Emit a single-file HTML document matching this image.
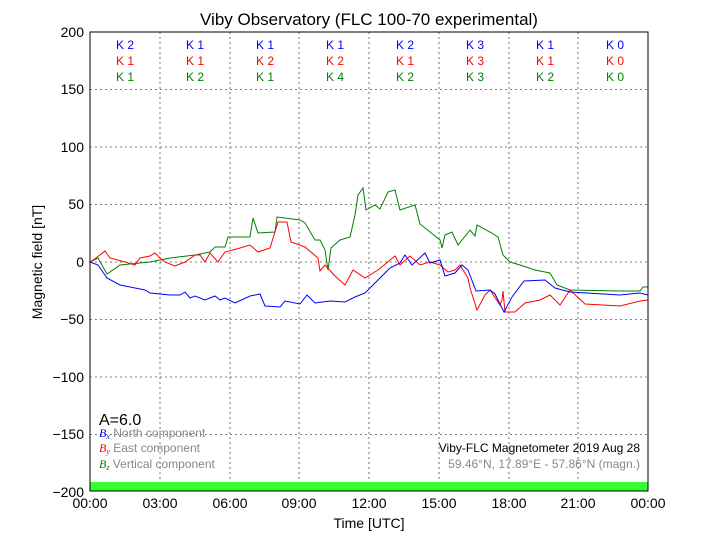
<!DOCTYPE html>
<html><head><meta charset="utf-8"><style>body{margin:0;background:#fff}svg{display:block}text{font-family:"Liberation Sans",sans-serif}</style></head><body>
<svg width="720" height="540" viewBox="0 0 720 540" xmlns="http://www.w3.org/2000/svg">
<rect width="720" height="540" fill="#fff"/>
<text x="369" y="25" font-size="17" text-anchor="middle">Viby Observatory (FLC 100-70 experimental)</text>
<g stroke="#555" stroke-dasharray="2,3" stroke-width="0.8">
<line x1="160" y1="32" x2="160" y2="491"/><line x1="230" y1="32" x2="230" y2="491"/><line x1="299" y1="32" x2="299" y2="491"/><line x1="369" y1="32" x2="369" y2="491"/><line x1="439" y1="32" x2="439" y2="491"/><line x1="509" y1="32" x2="509" y2="491"/><line x1="578" y1="32" x2="578" y2="491"/>
<line x1="90" y1="89.5" x2="648" y2="89.5"/><line x1="90" y1="147" x2="648" y2="147"/><line x1="90" y1="204.5" x2="648" y2="204.5"/><line x1="90" y1="262" x2="648" y2="262"/><line x1="90" y1="319.5" x2="648" y2="319.5"/><line x1="90" y1="377" x2="648" y2="377"/><line x1="90" y1="434.5" x2="648" y2="434.5"/>
</g>
<rect x="90" y="482" width="558" height="9" fill="#33ff33"/>
<polyline fill="none" stroke="#008000" stroke-width="1" points="90,262 98,258 107,274 120,265 150,262 170,258 195,255 210,252 215,247 225,247 228,237 250,237 253,218 258,233 275,232 277,217 300,220 305,223 315,240 320,240 325,250 328,270 331,248 340,240 350,237 355,215 358,195 363,188 366,210 375,205 380,209 388,192 395,190 400,210 415,205 420,224 440,240 442,248 445,235 452,232 458,245 470,230 475,236 477,225 490,232 498,237 503,255 510,262 520,265 535,270 550,273 557,285 570,290 620,291 640,291 643,287 648,287"/>
<polyline fill="none" stroke="#ff0000" stroke-width="1" points="90,262 96,258 105,251 110,258 125,262 135,265 140,258 150,256 155,253 160,258 165,262 175,266 185,262 195,255 200,255 205,262 210,253 218,262 225,252 240,248 250,245 258,252 270,248 278,222 287,222 291,242 305,247 318,258 320,271 325,265 335,276 345,285 353,270 365,278 378,270 395,256 400,265 410,256 420,265 430,262 440,265 448,272 455,270 460,265 468,278 470,288 477,310 485,295 490,290 500,305 502,300 503,291 505,312 515,312 525,303 540,300 550,295 560,305 570,290 585,304 620,306 640,301 648,300"/>
<polyline fill="none" stroke="#0000ff" stroke-width="1" points="90,262 98,265 107,278 120,285 145,290 150,293 170,295 180,295 185,292 190,298 195,296 205,300 215,296 220,300 225,298 235,303 250,296 260,294 265,306 280,307 285,301 300,304 307,295 315,303 330,301 345,302 355,297 365,293 375,283 380,278 390,268 400,263 405,255 412,265 425,253 430,263 440,260 445,276 455,273 462,265 468,270 476,291 490,290 495,294 504,312 512,297 524,281 545,280 555,288 570,292 620,295 640,293 648,295"/>
<rect x="90" y="32" width="558" height="459" fill="none" stroke="#000" stroke-width="1"/>
<g font-size="14" text-anchor="end">
<text x="84" y="37">200</text><text x="84" y="94">150</text><text x="84" y="152">100</text><text x="84" y="209">50</text><text x="84" y="267">0</text><text x="84" y="324">−50</text><text x="84" y="382">−100</text><text x="84" y="439">−150</text><text x="84" y="497">−200</text>
</g>
<g font-size="14" text-anchor="middle">
<text x="90" y="508">00:00</text><text x="160" y="508">03:00</text><text x="230" y="508">06:00</text><text x="299" y="508">09:00</text><text x="369" y="508">12:00</text><text x="439" y="508">15:00</text><text x="509" y="508">18:00</text><text x="578" y="508">21:00</text><text x="648" y="508">00:00</text>
<text x="369" y="528">Time [UTC]</text>
</g>
<text transform="translate(42,262) rotate(-90)" font-size="14" text-anchor="middle">Magnetic field [nT]</text>
<g font-size="12" text-anchor="middle">
<g fill="#0000ff"><text x="125" y="49">K 2</text><text x="195" y="49">K 1</text><text x="265" y="49">K 1</text><text x="335" y="49">K 1</text><text x="405" y="49">K 2</text><text x="475" y="49">K 3</text><text x="545" y="49">K 1</text><text x="615" y="49">K 0</text></g>
<g fill="#ff0000"><text x="125" y="65">K 1</text><text x="195" y="65">K 1</text><text x="265" y="65">K 2</text><text x="335" y="65">K 2</text><text x="405" y="65">K 1</text><text x="475" y="65">K 3</text><text x="545" y="65">K 1</text><text x="615" y="65">K 0</text></g>
<g fill="#008000"><text x="125" y="81">K 1</text><text x="195" y="81">K 2</text><text x="265" y="81">K 1</text><text x="335" y="81">K 4</text><text x="405" y="81">K 2</text><text x="475" y="81">K 3</text><text x="545" y="81">K 2</text><text x="615" y="81">K 0</text></g>
</g>
<text x="99" y="425" font-size="16">A=6.0</text>
<g font-size="12" fill="#888">
<text x="99" y="437"><tspan fill="#0000ff" font-family="Liberation Serif" font-style="italic">B<tspan font-size="8" dy="2">x</tspan></tspan><tspan dy="-2"> North component</tspan></text>
<text x="99" y="452"><tspan fill="#ff0000" font-family="Liberation Serif" font-style="italic">B<tspan font-size="8" dy="2">y</tspan></tspan><tspan dy="-2"> East component</tspan></text>
<text x="99" y="468"><tspan fill="#008000" font-family="Liberation Serif" font-style="italic">B<tspan font-size="8" dy="2">z</tspan></tspan><tspan dy="-2"> Vertical component</tspan></text>
<text x="640" y="468" text-anchor="end">59.46°N, 17.89°E - 57.86°N (magn.)</text>
</g>
<text x="640" y="452" font-size="12" text-anchor="end">Viby-FLC Magnetometer 2019 Aug 28</text>
</svg>
</body></html>
